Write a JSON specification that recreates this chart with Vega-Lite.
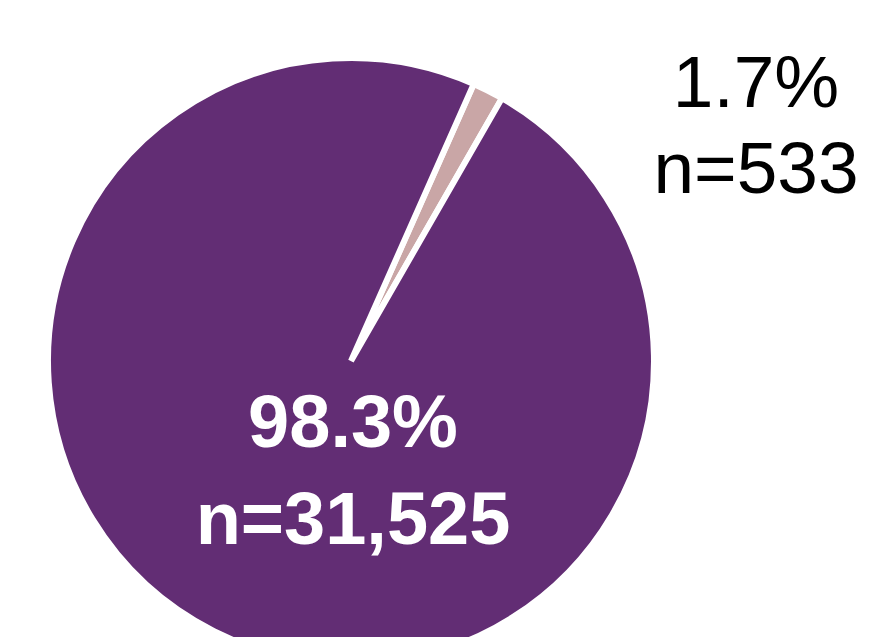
{
  "$schema": "https://vega.github.io/schema/vega-lite/v6.json",
  "width": 702,
  "height": 722,
  "autosize": {"type": "none"},
  "padding": {"left": 0, "top": 0, "right": 168, "bottom": 0},
  "background": "white",
  "config": {"view": {"stroke": null}},
  "data": {
    "values": [
      {"category": "Small", "count": 533, "label": "1.7%\nn=533"},
      {"category": "Large", "count": 31525, "label": "98.3%\nn=31,525"}
    ]
  },
  "layer": [
    {
      "mark": {"type": "arc", "outerRadius": 303, "stroke": "white", "strokeWidth": 6},
      "encoding": {
        "theta": {"field": "count", "type": "quantitative", "stack": true, "scale": {"range": [0.417, 6.7002]}},
        "color": {"field": "category", "type": "nominal", "scale": {"domain": ["Small", "Large"], "range": ["#C9A6A6", "#622D74"]}, "legend": null},
        "order": {"field": "count", "type": "quantitative", "sort": "ascending"}
      }
    },
    {
      "transform": [{"filter": "datum.category === 'Large'"}],
      "mark": {"type": "text", "font": "Liberation Sans", "fontWeight": "bold", "fontSize": 74, "color": "white", "lineBreak": "\n", "lineHeight": 97, "baseline": "middle", "align": "center", "dx": 2, "dy": 64},
      "encoding": {"text": {"field": "label", "type": "nominal"}}
    },
    {
      "transform": [{"filter": "datum.category === 'Small'"}],
      "mark": {"type": "text", "font": "Liberation Sans", "fontSize": 73, "color": "black", "lineBreak": "\n", "lineHeight": 86, "baseline": "middle", "align": "center", "dx": 405, "dy": -276},
      "encoding": {"text": {"field": "label", "type": "nominal"}}
    }
  ]
}
